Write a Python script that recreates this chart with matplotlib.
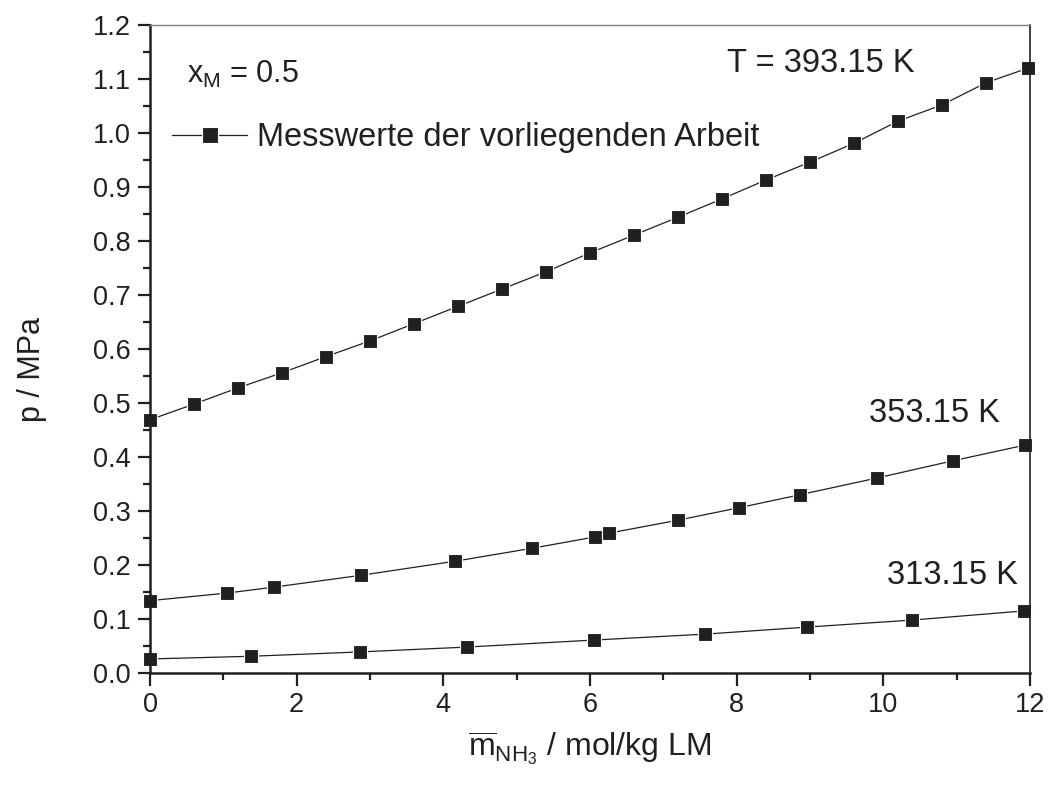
import matplotlib
matplotlib.use("Agg")
import matplotlib.pyplot as plt
from matplotlib.ticker import MultipleLocator, FormatStrFormatter

plt.rcParams['font.family'] = ['Liberation Sans', 'DejaVu Sans']
plt.rcParams['mathtext.fontset'] = 'custom'
plt.rcParams['mathtext.rm'] = 'Liberation Sans'
plt.rcParams['mathtext.it'] = 'Liberation Sans'

INK = '#231f20'

# T = 393.15 K
m_393 = [0.0, 0.6, 1.2, 1.8, 2.4, 3.0, 3.6, 4.2, 4.8, 5.4, 6.0,
         6.6, 7.2, 7.8, 8.4, 9.0, 9.6, 10.2, 10.8, 11.4, 11.97]
p_393 = [0.469, 0.498, 0.528, 0.556, 0.586, 0.615, 0.647, 0.679, 0.711, 0.743, 0.778,
         0.811, 0.844, 0.878, 0.913, 0.946, 0.981, 1.022, 1.052, 1.093, 1.120]

# T = 353.15 K
m_353 = [0.0, 1.05, 1.69, 2.88, 4.16, 5.21, 6.07, 6.26, 7.2, 8.03, 8.86, 9.91, 10.95, 11.93]
p_353 = [0.134, 0.148, 0.159, 0.181, 0.207, 0.231, 0.252, 0.259, 0.283, 0.306, 0.330, 0.361, 0.393, 0.422]

# T = 313.15 K
m_313 = [0.0, 1.38, 2.86, 4.32, 6.05, 7.57, 8.96, 10.39, 11.92]
p_313 = [0.026, 0.031, 0.039, 0.048, 0.061, 0.072, 0.085, 0.098, 0.115]

fig = plt.figure(figsize=(10.48, 7.87), dpi=100)
ax = fig.add_axes([150/1048, 1 - 673/787, 880/1048, 648/787])

style = dict(color=INK, lw=0.9, marker='s', ms=10, mfc=INK, mec='white', mew=0.8)
ax.plot(m_393, p_393, label='Messwerte der vorliegenden Arbeit', clip_on=False, **style)
ax.plot(m_353, p_353, clip_on=False, **style)
ax.plot(m_313, p_313, clip_on=False, **style)

ax.set_xlim(0, 12)
ax.set_ylim(0, 1.2)
ax.xaxis.set_major_locator(MultipleLocator(2))
ax.xaxis.set_minor_locator(MultipleLocator(1))
ax.yaxis.set_major_locator(MultipleLocator(0.1))
ax.yaxis.set_minor_locator(MultipleLocator(0.05))
ax.yaxis.set_major_formatter(FormatStrFormatter('%.1f'))

ax.tick_params(which='major', direction='out', length=9, width=1.6, color=INK,
               labelsize=19.5, labelcolor=INK, pad=5)
ax.tick_params(which='minor', direction='out', length=5, width=1.6, color=INK)
ax.tick_params(top=False, right=False)

ax.spines['left'].set_linewidth(1.8)
ax.spines['bottom'].set_linewidth(1.8)
ax.spines['left'].set_color(INK)
ax.spines['bottom'].set_color(INK)
ax.spines['right'].set_linewidth(1.2)
ax.spines['right'].set_color(INK)
ax.spines['top'].set_linewidth(1.0)
ax.spines['top'].set_color('#7f7f7f')

ax.set_xlabel(r'$\overline{\mathrm{m}}_{\mathrm{NH}_3}$ / mol/kg LM', fontsize=23, color=INK, labelpad=8)
ax.set_ylabel('p / MPa', fontsize=22, color=INK)
ax.yaxis.set_label_coords(-0.117, 0.469)

ax.text(0.656, 0.941, 'T = 393.15 K', transform=ax.transAxes, fontsize=23.5, color=INK, va='center')
ax.text(0.817, 0.401, '353.15 K', transform=ax.transAxes, fontsize=23.5, color=INK, va='center')
ax.text(0.8375, 0.150, '313.15 K', transform=ax.transAxes, fontsize=23.5, color=INK, va='center')
ax.text(0.042, 0.910, r'x$_{\mathrm{M}}$ = 0.5', transform=ax.transAxes, fontsize=22, color=INK, va='baseline')

leg = ax.legend(loc='center left', bbox_to_anchor=(0.025, 0.826), frameon=False,
                fontsize=23.5, handlelength=2.3, handletextpad=0.3, borderpad=0,
                borderaxespad=0, markerscale=1.2)
for t in leg.get_texts():
    t.set_color(INK)

fig.savefig('out.png', dpi=100)
